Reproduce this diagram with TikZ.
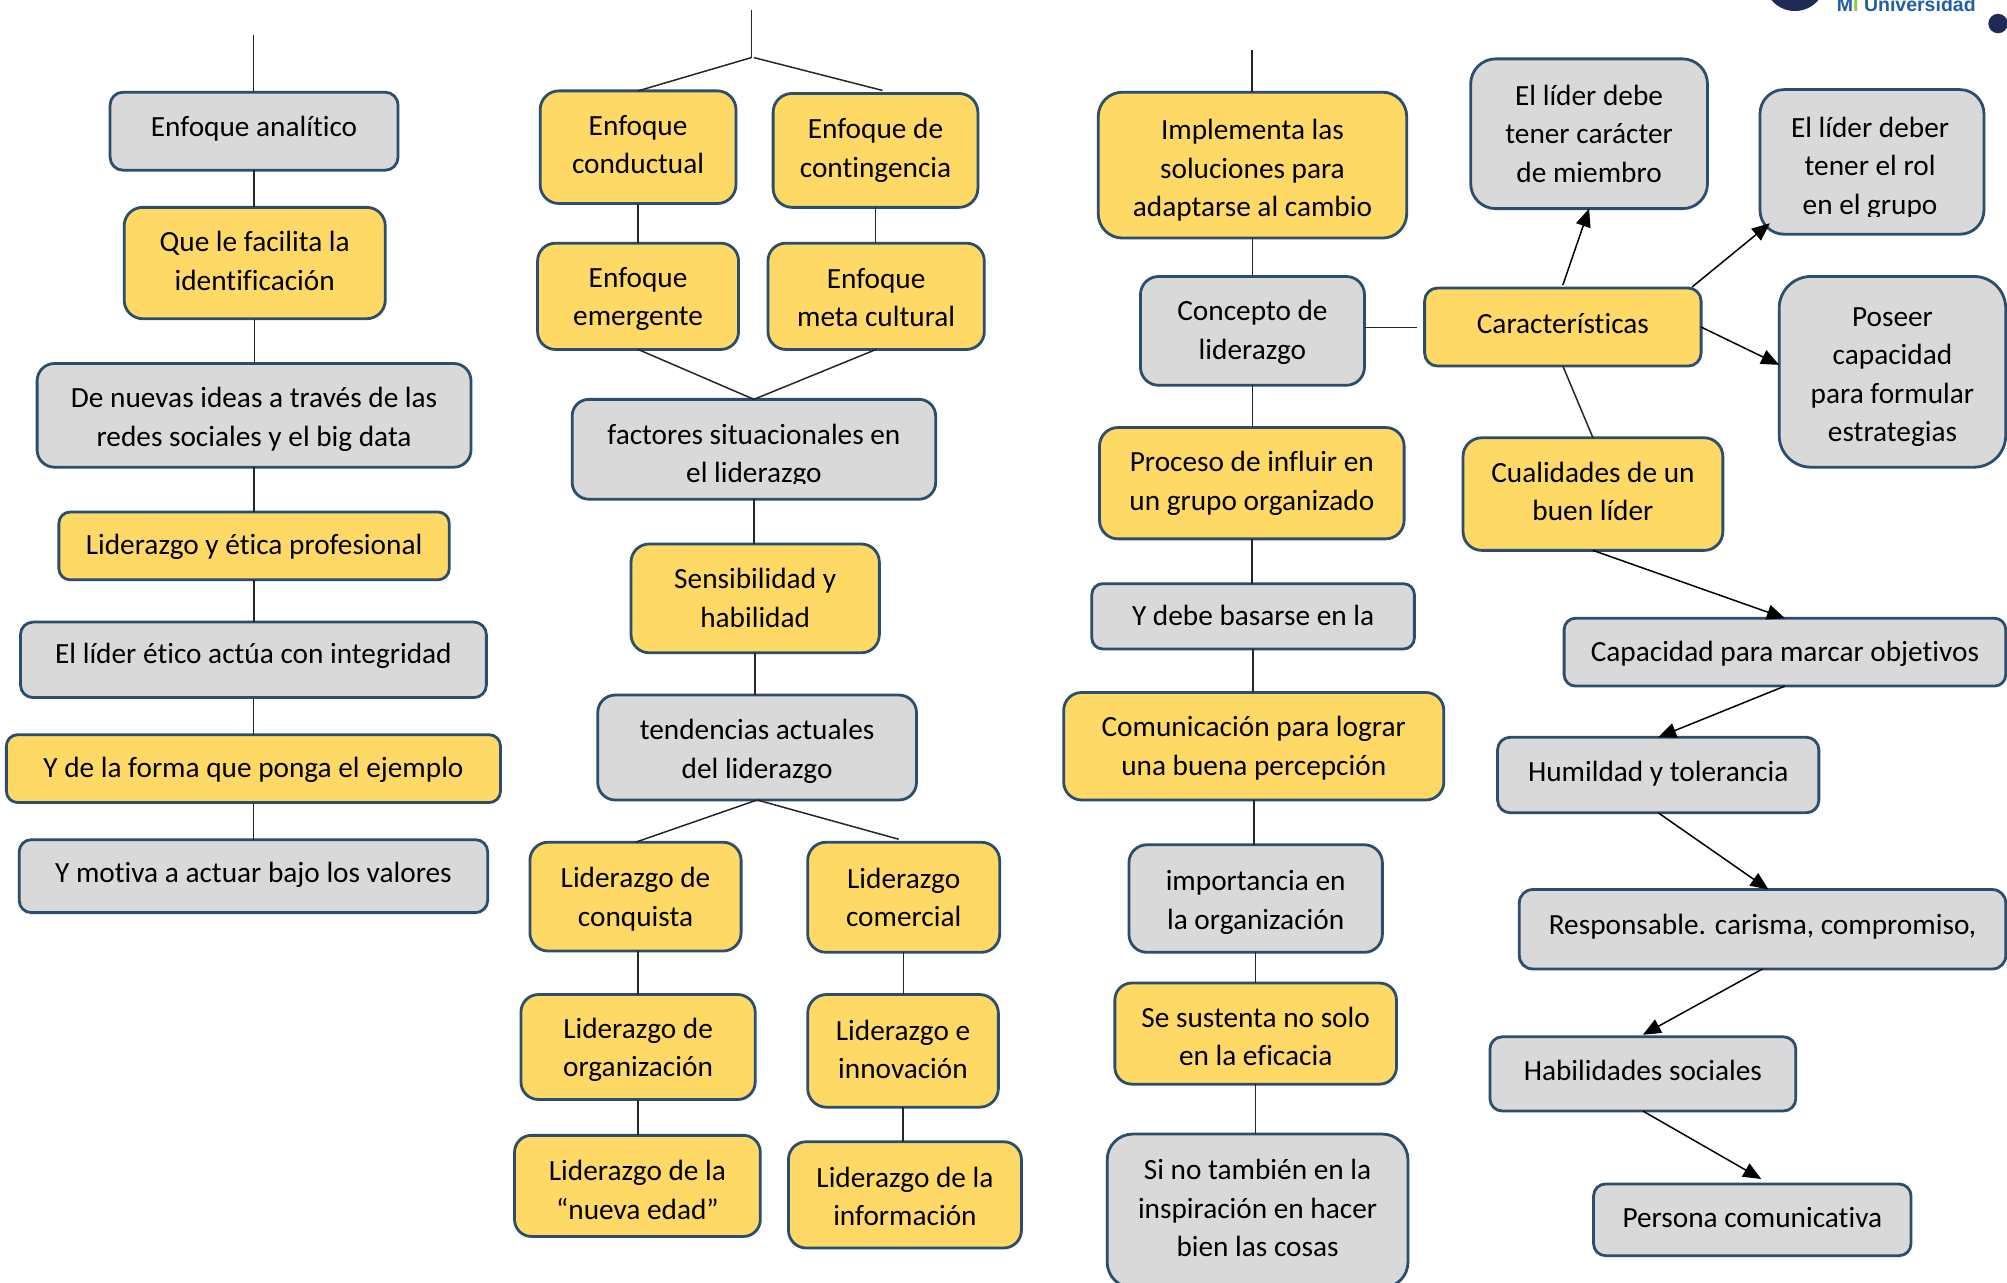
\documentclass[tikz,border=0pt]{standalone}
\usepackage{fontspec}
\setmainfont{Carlito}[Ligatures=CommonOff]
\newfontfamily\logofont{Liberation Sans}
\usetikzlibrary{arrows.meta,calc}
\definecolor{boxline}{HTML}{2C4D6B}
\definecolor{boxyellow}{HTML}{FFD966}
\definecolor{boxgray}{HTML}{D9D9D9}
\definecolor{lineink}{HTML}{262626}
\definecolor{navy}{HTML}{1F2A56}
\definecolor{logoblue}{HTML}{1F5FA8}
\definecolor{logogreen}{HTML}{8DC63F}
\tikzset{
  card/.style={draw=boxline,line width=2.8pt,inner sep=0pt,outer sep=0pt},
  cardtext/.style={align=center,inner sep=0pt,outer sep=0pt,
    font=\fontsize{29.3}{38.4}\selectfont,text=black},
  yel/.style={card,fill=boxyellow},
  gry/.style={card,fill=boxgray},
  link/.style={draw=lineink,line width=1.5pt},
  arrowlink/.style={link,-{Triangle[length=18pt,width=15pt]},black},
}
\def\txtclip{}
\newcommand{\bx}[8][0,0]{%
  \pgfmathsetmacro{\cxx}{(#3+#5)/2}%
  \pgfmathsetmacro{\cyy}{(#4+#6)/2}%
  \pgfmathsetmacro{\www}{(#5-#3)*1.28}%
  \pgfmathsetmacro{\hhh}{(#6-#4)*1.28}%
  \pgfmathsetmacro{\rrr}{0.1667*min(\www,\hhh)}%
  \node[#7,minimum width=\www pt,minimum height=\hhh pt,rounded corners=\rrr pt] (#2) at (\cxx,\cyy) {};%
  \ifx\txtclip\empty
    \node[cardtext,shift={(#1)}] (#2t) at (\cxx,\cyy) {#8};%
  \else
    \begin{scope}
      \clip (#3,#4) rectangle (#5,\txtclip);
      \node[cardtext,shift={(#1)}] (#2t) at (\cxx,\cyy) {#8};%
    \end{scope}
  \fi
}
\begin{document}
\begin{tikzpicture}[x=1.28pt,y=-1.28pt]
\useasboundingbox (0,0) rectangle (1568,1002.34);
\clip (0,0) rectangle (1568,1002.34);
% logo
\fill[navy] (1402.3,-15.3) circle (23.9);
\fill[navy] (1561,18.4) circle (7.6);
\node[anchor=base west,inner sep=0pt,font=\logofont\bfseries\fontsize{19.5}{20}\selectfont,text=logoblue] (logo) at (1435,8.6) {M\textcolor{logogreen}{I} Universidad};
% free ends
\coordinate (topA) at (198,27);
\coordinate (topB) at (587,8);
\coordinate (forkB) at (587,45);
\coordinate (forkBr) at (589,45);
\coordinate (topC) at (978,39);
\coordinate (stubC) at (1107,256);
% boxes
\bx[0,-2]{a1}{86}{72}{311}{133}{gry}{Enfoque analítico}
\bx[0,-1.5]{a2}{97}{162}{301}{249}{yel}{Que le facilita la\\identificación}
\bx[0,3]{a3}{29}{284}{368}{365}{gry}{De nuevas ideas a través de las\\redes sociales y el big data}
\bx[0,1]{a4}{46}{400}{351}{453}{yel}{Liderazgo y ética profesional}
\bx[0,-3]{a5}{16}{486}{380}{545}{gry}{El líder ético actúa con integridad}
\bx[0,1]{a6}{5}{574}{391}{627}{yel}{Y de la forma que ponga el ejemplo}
\bx[0,-1]{a7}{15}{656}{381}{713}{gry}{Y motiva a actuar bajo los valores}
\bx[0,-2]{b1}{422}{71}{575}{159}{yel}{Enfoque\\conductual}
\bx{b2}{604}{73}{764}{162}{yel}{Enfoque de\\contingencia}
\bx[0,2]{b3}{420}{190}{577}{273}{yel}{Enfoque\\emergente}
\bx[0,1]{b4}{600}{190}{769}{273}{yel}{Enfoque\\meta cultural}
\def\txtclip{377.5}
\bx[0,5]{b5}{447}{312}{731}{390}{gry}{factores situacionales en\\el liderazgo}
\def\txtclip{}
\bx[0,-0.5]{b6}{493}{425}{687}{510}{yel}{Sensibilidad y\\habilidad}
\bx[0,3]{b7}{467}{543}{716}{625}{gry}{tendencias actuales\\del liderazgo}
\bx[0,2]{b8}{414}{658}{579}{743}{yel}{Liderazgo de\\conquista}
\bx{b9}{631}{658}{781}{744}{yel}{Liderazgo\\comercial}
\bx[0,2]{b10}{407}{777}{590}{859}{yel}{Liderazgo de\\organización}
\bx[0,-1]{b11}{631}{777}{780}{865}{yel}{Liderazgo e\\innovación}
\bx[0,3]{b12}{402}{887}{594}{966}{yel}{Liderazgo de la\\“nueva edad”}
\bx[0,1]{b13}{616}{892}{798}{975}{yel}{Liderazgo de la\\información}
\bx[0,4]{c1}{858}{72}{1099}{186}{yel}{Implementa las\\soluciones para\\adaptarse al cambio}
\bx[0,1]{c2}{891}{216}{1066}{301}{gry}{Concepto de\\liderazgo}
\bx{c3}{859}{334}{1097}{421}{yel}{Proceso de influir en\\un grupo organizado}
\bx[0,-1]{c4}{853}{456}{1105}{507}{gry}{Y debe basarse en la}
\bx[0,1.5]{c5}{831}{541}{1128}{625}{yel}{Comunicación para lograr\\una buena percepción}
\bx[0,3]{c6}{882}{660}{1080}{744}{gry}{importancia en\\la organización}
\bx[0,2]{c7}{871}{768}{1091}{847}{yel}{Se sustenta no solo\\en la eficacia}
\bx[0,-2]{c8}{865}{886}{1100}{1006}{gry}{Si no también en la\\inspiración en hacer\\bien las cosas}
\bx[0,-3]{d0}{1113}{225}{1329}{286}{yel}{Características}
\bx{d1}{1149}{46}{1334}{163}{gry}{El líder debe\\tener carácter\\de miembro}
\def\txtclip{169.5}
\bx[-1.5,5]{d2}{1375}{70}{1550}{183}{gry}{El líder deber\\tener el rol\\en el grupo}
\def\txtclip{}
\bx[0,4]{d3}{1390}{216}{1567}{365}{gry}{Poseer\\capacidad\\para formular\\estrategias}
\bx[0,-2]{e0}{1143}{342}{1346}{430}{yel}{Cualidades de un\\buen líder}
\bx[0,1]{e1}{1222}{483}{1567}{536}{gry}{Capacidad para marcar objetivos}
\bx[0,-1]{e2}{1170}{576}{1421}{635}{gry}{Humildad y tolerancia}
\bx[0,-2]{e3}{1187}{695}{1567}{757}{gry}{Responsable. carisma, compromiso,}
\bx[0,-3]{e4}{1164}{810}{1403}{868}{gry}{Habilidades sociales}
\bx[0,-2]{e5}{1245}{925}{1493}{981}{gry}{Persona comunicativa}
% column A
\draw[link] (topA) -- (topA |- a1.north);
\foreach \p/\q in {a1/a2,a2/a3,a3/a4,a4/a5,a5/a6,a6/a7}
  \draw[link] (\p.south) -- (\p.south |- \q.north);
% column B
\draw[link] (topB) -- (forkB);
\draw[link] (forkB) -- (b1.north);
\draw[link] (forkBr) -- ([xshift=7pt,yshift=3pt]b2.north);
\draw[link] (b1.south) -- (b1.south |- b3.north);
\draw[link] (b2.south) -- (b2.south |- b4.north);
\draw[link] (b3.south) -- (b5.north);
\draw[link] (b4.south) -- (b5.north);
\draw[link] (b5.south) -- (b5.south |- b6.north);
\draw[link] (b6.south) -- (b6.south |- b7.north);
\draw[link] (b7.south) -- (b8.north);
\draw[link] (b7.south) -- ([xshift=-5pt,yshift=3pt]b9.north);
\draw[link] (b10.north) -- (b10.north |- b8.south);
\draw[link] (b9.south) -- (b9.south |- b11.north);
\draw[link] (b10.south) -- (b10.south |- b12.north);
\draw[link] (b11.south) -- (b11.south |- b13.north);
% column C
\draw[link] (topC) -- (topC |- c1.north);
\foreach \p/\q in {c1/c2,c2/c3,c3/c4,c4/c5,c5/c6,c6/c7,c7/c8}
  \draw[link] (\p.south) -- (\p.south |- \q.north);
\draw[link] (c2.east |- stubC) -- (stubC);
% right side
\draw[arrowlink] ([yshift=3pt]d0.north) -- (d1.south);
\draw[arrowlink] ([xshift=-9pt,yshift=1pt]d0.north east) -- ([xshift=10pt,yshift=11pt]d2.south west);
\draw[arrowlink] (d0.east) -- ([yshift=7pt]d3.west);
\draw[link] (d0.south) -- (e0.north);
\draw[arrowlink] (e0.south) -- (e1.north);
\draw[arrowlink] (e1.south) -- (e2.north);
\draw[arrowlink] (e2.south) -- ([xshift=6pt]e3.north);
\draw[arrowlink] (e3.south) -- ([yshift=2pt]e4.north);
\draw[arrowlink] (e4.south) -- ([xshift=9pt,yshift=5pt]e5.north);
\end{tikzpicture}
\end{document}
